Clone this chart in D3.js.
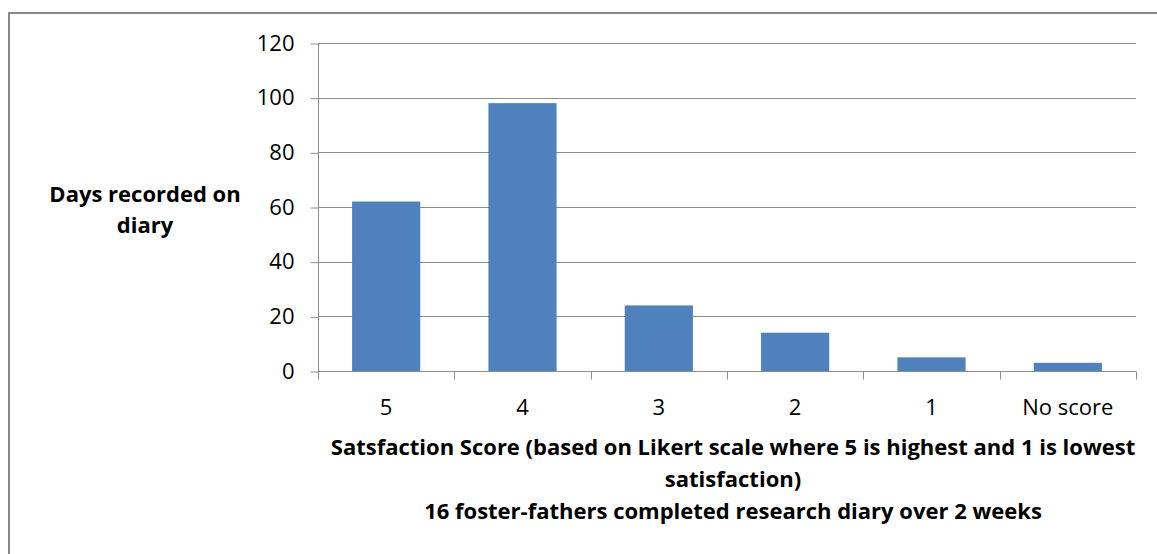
<!DOCTYPE html>
<html>
<head>
<meta charset="utf-8">
<script src="https://cdn.jsdelivr.net/npm/d3@7"></script>
<style>
  body { margin: 0; background: #fff; }
  svg { display: block; font-family: "Open Sans", sans-serif; }
</style>
</head>
<body>
<svg id="chart" width="1157" height="554"></svg>
<script>
// categories and values
var categories = ["5", "4", "3", "2", "1", "No score"];
var days = [62, 98, 24, 14, 5, 3];
var yTicks = [0, 20, 40, 60, 80, 100, 120];
var yTitle = ["Days recorded on", "diary"];
var xTitle = ["Satsfaction Score (based on Likert scale where 5 is highest and 1 is lowest",
              "satisfaction)",
              "16 foster-fathers completed research diary over 2 weeks"];

var svg = d3.select("#chart");
var plotLeft = 318, plotRight = 1136, plotTop = 43, plotBottom = 371;
var gridColor = "#8c8c8c";

// outer frame (runs off the right and bottom edges)
svg.append("rect")
  .attr("x", 9).attr("y", 13)
  .attr("width", 1160).attr("height", 560)
  .attr("fill", "none")
  .attr("stroke", "#8a8a8a")
  .attr("stroke-width", 2);

var x = d3.scaleBand().domain(categories).range([plotLeft, plotRight]).paddingInner(0.5).paddingOuter(0.25);
var xEdge = d3.scaleBand().domain(categories).range([plotLeft, plotRight]);
var y = d3.scaleLinear().domain([0, 120]).range([plotBottom, plotTop]);

//gridlines
svg.append("g").selectAll("line")
  .data(yTicks.slice(1))
  .enter().append("line")
  .attr("x1", plotLeft).attr("x2", plotRight)
  .attr("y1", function(d){ return Math.round(y(d)) + 0.5; })
  .attr("y2", function(d){ return Math.round(y(d)) + 0.5; })
  .attr("stroke", gridColor);

//bars
svg.append("g").selectAll("rect")
  .data(days)
  .enter().append("rect")
  .attr("x", function(d, i){ return x(categories[i]); })
  .attr("width", x.bandwidth())
  .attr("y", function(d){ return y(d); })
  .attr("height", function(d){ return y(0) - y(d); })
  .attr("fill", "#4f81bd");

//y axis
var yAxis = d3.axisLeft(y).tickValues(yTicks).tickSize(8).tickPadding(16);
var gy = svg.append("g")
  .attr("transform", "translate(" + (plotLeft + 0.5) + ",0)")
  .call(yAxis);
gy.select(".domain").attr("stroke", gridColor).attr("d", "M0," + plotTop + "V" + plotBottom);
gy.selectAll(".tick line").attr("stroke", gridColor).attr("transform", "translate(0,0.5)");
gy.selectAll("text").attr("font-size", 22).attr("fill", "#000").attr("font-family", "'Open Sans', sans-serif");

//x axis
var gx = svg.append("g")
  .attr("transform", "translate(0," + (plotBottom + 0.5) + ")");
gx.append("line").attr("x1", plotLeft).attr("x2", plotRight).attr("stroke", gridColor);
gx.selectAll(".edge")
  .data(categories.concat(["end"]))
  .enter().append("line")
  .attr("class", "edge")
  .attr("x1", function(d, i){ return Math.round(i < categories.length ? xEdge(d) : plotRight) + 0.5; })
  .attr("x2", function(d, i){ return Math.round(i < categories.length ? xEdge(d) : plotRight) + 0.5; })
  .attr("y1", 0).attr("y2", 8)
  .attr("stroke", gridColor);
gx.selectAll(".lab")
  .data(categories)
  .enter().append("text")
  .attr("class", "lab")
  .attr("x", function(d){ return xEdge(d) + xEdge.bandwidth() / 2; })
  .attr("y", 43)
  .attr("text-anchor", "middle")
  .attr("font-size", 22)
  .text(function(d){ return d; });

//axis titles
svg.append("g").selectAll("text")
  .data(yTitle)
  .enter().append("text")
  .attr("x", 145)
  .attr("y", function(d, i){ return 202 + i * 31; })
  .attr("text-anchor", "middle")
  .attr("font-size", 22)
  .attr("font-weight", "bold")
  .text(function(d){ return d; });

svg.append("g").selectAll("text")
  .data(xTitle)
  .enter().append("text")
  .attr("x", (plotLeft + plotRight) / 2 + 6)
  .attr("y", function(d, i){ return 455 + i * 32; })
  .attr("text-anchor", "middle")
  .attr("font-size", 22)
  .attr("font-weight", "bold")
  .text(function(d){ return d; });
</script>
</body>
</html>
